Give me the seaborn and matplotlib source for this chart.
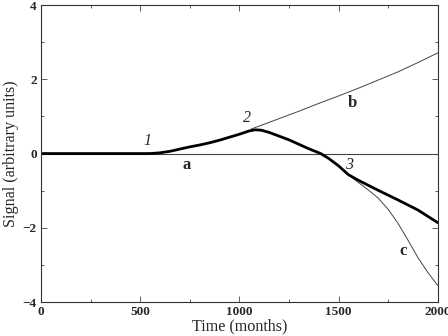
import matplotlib
matplotlib.use("Agg")
import matplotlib.pyplot as plt
import seaborn as sns
from matplotlib.ticker import MultipleLocator

# values
main_x = [0, 500, 551, 600, 650, 700, 750, 800, 850, 900, 950, 1000, 1050,
          1080, 1110, 1150, 1200, 1250, 1300, 1350, 1410, 1450, 1500, 1550,
          1600, 1700, 1800, 1900, 2000]
main_y = [0, 0, 0, 0.02, 0.06, 0.12, 0.18, 0.23, 0.29, 0.36, 0.44, 0.52, 0.61,
          0.64, 0.63, 0.57, 0.47, 0.37, 0.25, 0.13, 0.0, -0.13, -0.33, -0.57,
          -0.72, -0.99, -1.25, -1.52, -1.86]

zero_x = [0, 2000]
zero_y = [0, 0]

b_x = [1060, 1150, 1200, 1300, 1400, 1500, 1600, 1700, 1800, 1900, 2000]
b_y = [0.66, 0.84, 0.94, 1.14, 1.35, 1.55, 1.76, 1.98, 2.2, 2.45, 2.71]

c_x = [1550, 1600, 1650, 1700, 1750, 1800, 1850, 1900, 1950, 2000]
c_y = [-0.57, -0.78, -0.98, -1.2, -1.5, -1.88, -2.33, -2.8, -3.2, -3.55]

point_labels = ["1", "2", "3"]
point_pos = [(537, 0.33), (1038, 0.96), (1552, -0.32)]
curve_labels = ["a", "b", "c"]
curve_pos = [(734, -0.32), (1571, 1.36), (1827, -2.62)]

sns.set_style("ticks")
plt.rcParams["font.family"] = ["Liberation Serif", "DejaVu Serif"]

fig = plt.figure(figsize=(4.48, 3.36), dpi=100)
ax = fig.add_axes([0.0915, 0.101, 0.8855, 0.884])

sns.lineplot(x=zero_x, y=zero_y, ax=ax, color="#444444", linewidth=0.8)
sns.lineplot(x=b_x, y=b_y, ax=ax, color="#444444", linewidth=0.7)
sns.lineplot(x=c_x, y=c_y, ax=ax, color="#444444", linewidth=0.7)
sns.lineplot(x=main_x, y=main_y, ax=ax, color="black", linewidth=2.0)

for lab, (x, y) in zip(point_labels, point_pos):
    ax.text(x, y, lab, fontsize=11.5, style="italic", ha="center", va="center")
for lab, (x, y) in zip(curve_labels, curve_pos):
    ax.text(x, y, lab, fontsize=12, fontweight="bold", ha="center", va="center")

ax.set_xlim(0, 2000)
ax.set_ylim(-4, 4)
ax.xaxis.set_major_locator(MultipleLocator(500))
ax.xaxis.set_minor_locator(MultipleLocator(250))
ax.yaxis.set_minor_locator(MultipleLocator(1))
ax.set_yticks([-4, -2, 0, 2, 4])
ax.set_yticklabels(["\u22124", "\u22122", "0", "2", "4"])
ax.tick_params(which="both", direction="in", top=True, right=True,
               width=0.6, color="#444444", labelsize=9.5, pad=3)
ax.tick_params(which="major", length=4)
ax.tick_params(which="minor", length=2)
for t in ax.get_xticklabels() + ax.get_yticklabels():
    t.set_fontweight("bold")
for s in ax.spines.values():
    s.set_linewidth(0.8)
    s.set_color("#333333")

ax.set_xlabel("Time (months)", fontsize=11.6, labelpad=0)
ax.set_ylabel("Signal (arbitrary units)", fontsize=11.6, labelpad=3)

fig.savefig("out.png", dpi=100)
